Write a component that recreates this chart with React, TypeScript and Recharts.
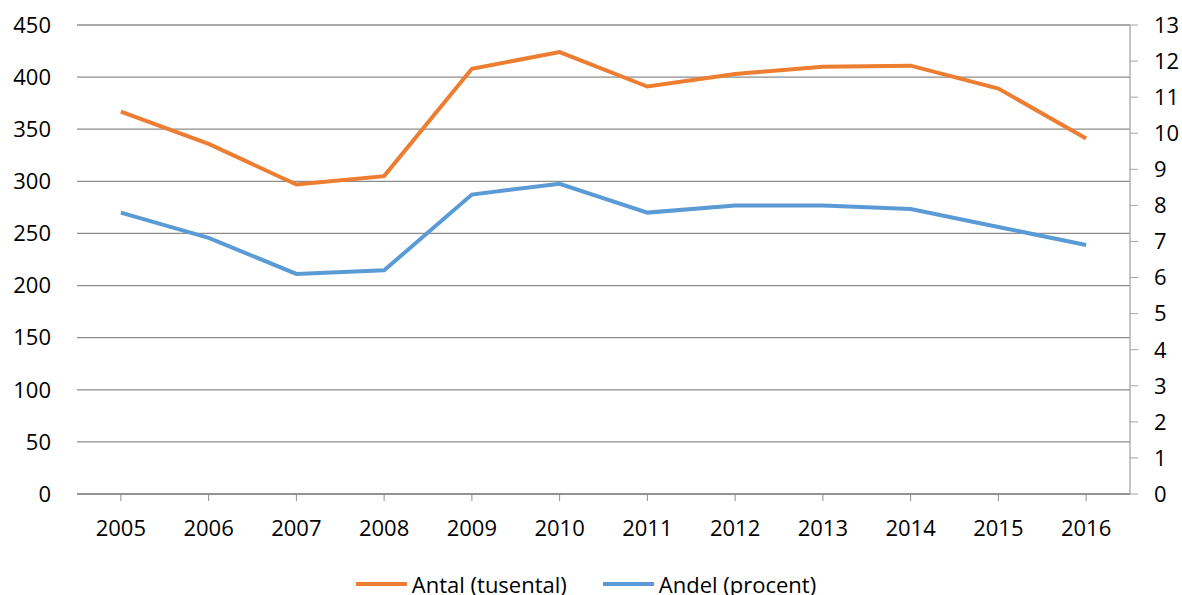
import { LineChart, Line, XAxis, YAxis, CartesianGrid, Legend } from "recharts";

const years = ["2005", "2006", "2007", "2008", "2009", "2010", "2011", "2012", "2013", "2014", "2015", "2016"];
const antal = [367, 336, 297, 305, 408, 424, 391, 403, 410, 411, 389, 341];
const andel = [7.8, 7.1, 6.1, 6.2, 8.3, 8.6, 7.8, 8.0, 8.0, 7.9, 7.4, 6.9];
const leftTicks = [0, 50, 100, 150, 200, 250, 300, 350, 400, 450];
const rightTicks = [0, 1, 2, 3, 4, 5, 6, 7, 8, 9, 10, 11, 12, 13];

const series = [
  { key: "antal", name: "Antal (tusental)", color: "#ED7D31" },
  { key: "andel", name: "Andel (procent)", color: "#5B9BD5" },
];

const data = years.map((year, i) => ({ year, antal: antal[i], andel: andel[i] }));

const font = "'Open Sans', sans-serif";
const gridColor = "#8c8c8c";
const tickStyle = { fill: "#000", fontSize: 22, fontFamily: font };

function ChartLegend() {
  return (
    <div
      style={{
        height: 40,
        paddingTop: 18,
        boxSizing: "border-box",
        display: "flex",
        justifyContent: "center",
        paddingRight: 10,
        fontFamily: font,
        fontSize: 22,
        lineHeight: "22px",
        color: "#000",
      }}
    >
      {series.map((s, i) => (
        <div key={s.key} style={{ display: "flex", alignItems: "center", marginLeft: i ? 36 : 0 }}>
          <span style={{ display: "inline-block", width: 51, height: 4, background: s.color, marginRight: 5 }} />
          <span>{s.name}</span>
        </div>
      ))}
    </div>
  );
}

export default function App() {
  return (
    <div style={{ position: "absolute", left: 0, top: 0 }}>
      <LineChart width={1182} height={595} data={data} margin={{ top: 25, right: 0, bottom: 0, left: 0 }}>
        <CartesianGrid vertical={false} stroke={gridColor} strokeWidth={1.3} yAxisId="left" />
        <XAxis
          dataKey="year"
          scale="band"
          height={61}
          axisLine={{ stroke: gridColor, strokeWidth: 1.3 }}
          tickLine={{ stroke: gridColor }}
          tickSize={7}
          tickMargin={19}
          tick={tickStyle}
          interval={0}
        />
        <YAxis
          yAxisId="left"
          domain={[0, 450]}
          ticks={leftTicks}
          width={77}
          axisLine={false}
          tickLine={false}
          tickSize={8}
          tickMargin={18}
          tick={tickStyle}
        />
        <YAxis
          yAxisId="right"
          orientation="right"
          domain={[0, 13]}
          ticks={rightTicks}
          width={52}
          axisLine={{ stroke: "#a6a6a6", strokeWidth: 1.3 }}
          tickLine={{ stroke: "#a6a6a6" }}
          tickSize={8}
          tickMargin={16}
          tick={{ ...tickStyle, textAnchor: "start" }}
          interval={0}
        />
        <Legend verticalAlign="bottom" content={() => <ChartLegend />} />
        <Line
          yAxisId="left"
          dataKey="antal"
          name={series[0].name}
          stroke={series[0].color}
          strokeWidth={4}
          dot={false}
          isAnimationActive={false}
        />
        <Line
          yAxisId="right"
          dataKey="andel"
          name={series[1].name}
          stroke={series[1].color}
          strokeWidth={4}
          dot={false}
          isAnimationActive={false}
        />
      </LineChart>
    </div>
  );
}
